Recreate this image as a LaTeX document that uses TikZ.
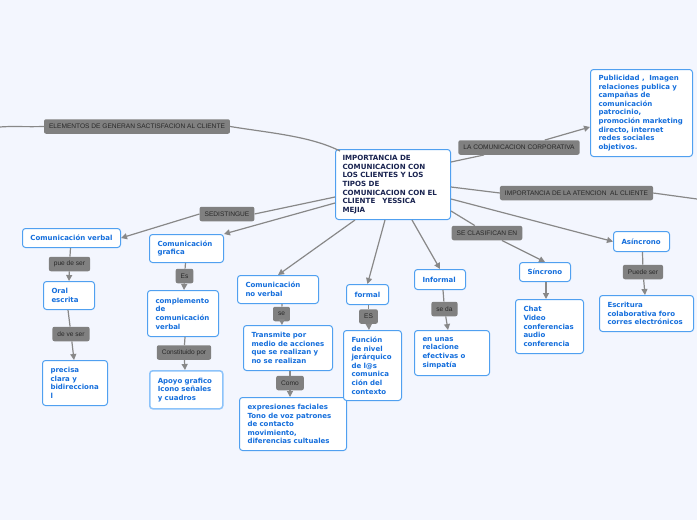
\documentclass[tikz,border=0pt]{standalone}
\usepackage{fontspec}
\setmainfont{DejaVu Sans}
\newfontfamily\lblfont{Liberation Sans}
\usetikzlibrary{arrows.meta}
\definecolor{bgc}{RGB}{243,246,254}
\definecolor{bordc}{RGB}{80,160,240}
\definecolor{lightbord}{RGB}{140,195,250}
\definecolor{txtc}{RGB}{20,110,220}
\definecolor{navy}{RGB}{25,35,80}
\definecolor{lblfill}{RGB}{128,128,128}
\definecolor{lbltxt}{RGB}{40,40,40}
\definecolor{linec}{RGB}{136,136,136}
\tikzset{
  box/.style={draw=bordc, line width=1pt, fill=white, rounded corners=3pt,
    anchor=north west, align=left, inner xsep=8pt, inner ysep=3pt,
    font=\bfseries\fontsize{7}{8.6}\selectfont, text=txtc},
  lbl/.style={fill=lblfill, rounded corners=2pt, text=lbltxt, inner xsep=5pt,
    minimum height=14.5pt, font=\lblfont\fontsize{6.6}{7.5}\selectfont},
  conn/.style={draw=linec, line width=1.2pt},
  arr/.style={conn, -{Triangle[length=6pt,width=6pt]}}
}
\newcommand{\bx}[6]{\node[box,#6, minimum width=#4pt, minimum height=#5pt, text width=#4pt-16pt] (#1) at (#2,#3)}
\begin{document}
\begin{tikzpicture}[x=1pt,y=-1pt]
\fill[bgc] (0,0) rectangle (697,520);
\useasboundingbox (0,0) rectangle (697,520);

% central
\node[box, draw=bordc, text=navy, minimum width=115pt, minimum height=70pt, text width=101pt, inner xsep=7pt, font=\bfseries\fontsize{7.1}{8.7}\selectfont] (c) at (335,149)
 {IMPORTANCIA DE\\COMUNICACION CON\\LOS CLIENTES Y LOS\\TIPOS DE\\COMUNICACION CON EL\\CLIENTE \ \ YESSICA\\MEJIA};

\bx{pub}{590}{69}{102}{87}{}{Publicidad , \ Imagen\\relaciones publica y\\campañas de\\comunicación\\patrocinio,\\promoción marketing\\directo, internet\\redes sociales\\objetivos.};
\bx{verbal}{22}{228}{98}{19}{}{\mbox{Comunicación verbal}};
\bx{grafica}{149}{234}{74}{28}{}{Comunicación\\grafica};
\bx{compl}{147}{290}{71}{46}{}{complemento\\de\\comunicación\\verbal};
\bx{apoyo}{149}{370}{73}{38}{draw=lightbord, line width=1.5pt}{Apoyo grafico\\Icono señales\\y cuadros};
\bx{oral}{43}{281}{51}{28}{}{Oral\\escrita};
\bx{precisa}{42}{360}{65}{45}{}{precisa\\clara y\\bidirecciona\\l};
\bx{nover}{237}{275}{81}{28}{}{Comunicación\\no verbal};
\bx{trans}{243}{325}{89}{45}{}{Transmite por\\medio de acciones\\que se realizan y\\no se realizan};
\bx{expr}{239}{397}{107}{53}{}{expresiones faciales\\Tono de voz patrones\\de contacto\\movimiento,\\diferencias cultuales};
\bx{formal}{346}{284}{42}{20}{}{formal};
\bx{funcion}{343}{330}{58}{70}{}{Función\\de nivel\\jerárquico\\de l@s\\comunica\\ción del\\contexto};
\bx{informal}{414}{269}{51}{20}{}{Informal};
\bx{enunas}{414}{330}{75}{45}{}{en unas\\relacione\\efectivas o\\simpatía};
\bx{sinc}{519}{262}{51}{19}{}{Síncrono};
\bx{chat}{515}{299}{68}{54}{}{Chat\\Video\\conferencias\\audio\\conferencia};
\bx{asinc}{613}{231}{56}{20}{}{Asíncrono};
\bx{escr}{599}{295}{94}{36}{}{Escritura\\colaborativa foro\\corres electrónicos};

% labels
\node[lbl] (lelem) at (137,126.5) {ELEMENTOS DE GENERAN SACTISFACION AL CLIENTE};
\node[lbl] (lcorp) at (519,147.5) {LA COMUNICACION CORPORATIVA};
\node[lbl] (laten) at (576.5,193) {IMPORTANCIA DE LA ATENCION \ AL CLIENTE};
\node[lbl] (ldist) at (227,214) {SEDISTINGUE};
\node[lbl] (lclas) at (487,233) {SE CLASIFICAN EN};
\node[lbl] (lpue) at (69.5,264) {pue de ser};
\node[lbl] (ldeve) at (71,334) {de ve ser};
\node[lbl] (les) at (184.5,276) {Es};
\node[lbl] (lcons) at (184,352.5) {Constituido por};
\node[lbl] (lse) at (281.5,314) {se};
\node[lbl] (lcomo) at (290,383) {Como};
\node[lbl] (lES) at (368.5,316.5) {ES};
\node[lbl] (lseda) at (444.5,309) {se da};
\node[lbl] (lpuede) at (643,272) {Puede ser};

\coordinate (lft) at (0,127);
\coordinate (rgt) at (697,199);

% connectors
\draw[conn] (340,151) .. controls (310,136) and (270,133) .. (lelem.east);
\draw[conn] (lelem.west) .. controls (25,127) and (10,126) .. (lft);
\draw[conn] (c.west |- 0,197) -- (ldist.east);
\draw[arr] (ldist.west) -- (verbal.east);
\draw[arr] (c.west |- 0,203) -- (grafica.north east);
\draw[arr] (c.south west) ++(20,0) coordinate (cs1) -- (nover.north);
\draw[arr] (c.south) ++(-8,0) coordinate (cs2) -- (formal.north);
\draw[arr] (c.south) ++(19,0) coordinate (cs3) -- (informal.north);
\draw[conn] (c.east |- 0,211) -- (lclas);
\draw[arr] (lclas) -- (sinc.north);
\draw[arr] (c.east |- 0,199) -- (asinc.west);
\draw[conn] (c.east |- 0,187) -- (laten.west);
\draw[conn] (laten.east) -- (rgt);
\draw[conn] (c.east |- 0,162) -- (lcorp);
\draw[arr] (lcorp) -- (pub.west |- 0,127);
% vertical chains
\draw[conn] (verbal.south) ++(-1,0) -- (lpue);
\draw[arr] (lpue) -- (oral.north);
\draw[conn] (oral.south) ++(-1,0) -- (ldeve);
\draw[arr] (ldeve) -- (precisa.north -| 74,0);
\draw[conn] (grafica.south) ++(-1,0) -- (les);
\draw[arr] (les) -- (compl.north -| 184,0);
\draw[conn] (compl.south) ++(2,0) -- (lcons);
\draw[arr] (lcons) -- (apoyo.north -| 185,0);
\draw[conn] (nover.south) ++(4,0) -- (lse);
\draw[arr] (lse) -- (trans.north -| 282,0);
\draw[conn] (trans.south) ++(2,0) -- (lcomo);
\draw[arr] (lcomo) -- (expr.north -| 290,0);
\draw[conn] (formal.south) ++(1,0) -- (lES);
\draw[arr] (lES) -- (funcion.north -| 369,0);
\draw[conn] (informal.south) ++(3,0) -- (lseda);
\draw[arr] (lseda) -- (enunas.north -| 448,0);
\draw[arr] (sinc.south) ++(1,0) -- (chat.north -| 546,0);
\draw[conn] (asinc.south) ++(1,0) -- (lpuede);
\draw[arr] (lpuede) -- (escr.north -| 645,0);
\end{tikzpicture}
\end{document}
